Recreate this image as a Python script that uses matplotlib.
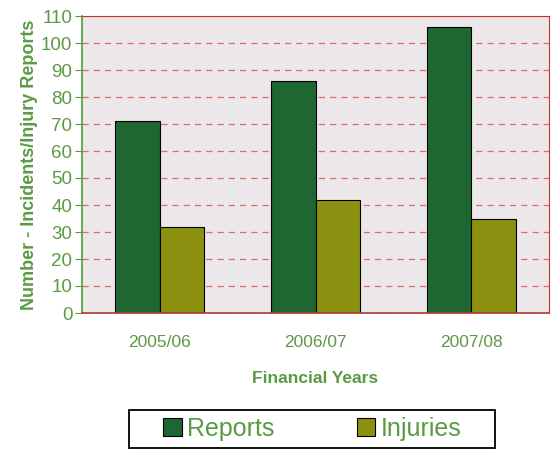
import numpy as np
import matplotlib.pyplot as plt
from matplotlib import font_manager
from matplotlib.patches import Rectangle

years = ['2005/06', '2006/07', '2007/08']
reports = [71, 86, 106]
injuries = [32, 42, 35]

names = {f.name for f in font_manager.fontManager.ttflist}
narrow = 'Liberation Sans Narrow' if 'Liberation Sans Narrow' in names else 'Liberation Sans'

green_txt = '#5b9a45'
fig = plt.figure(figsize=(5.51, 4.5), dpi=100)
ax = fig.add_axes([82 / 551, 1 - 313 / 450, 467 / 551, 297 / 450])
ax.set_facecolor('#ece8e9')

x = np.arange(len(years))
w = 0.285
ax.bar(x - w / 2, reports, w, color='#1e6632', edgecolor='black', linewidth=0.8, label='Reports')
ax.bar(x + w / 2, injuries, w, color='#8c9010', edgecolor='black', linewidth=0.8, label='Injuries')

ax.set_xlim(-0.5, 2.5)
ax.set_ylim(0, 110)
ax.set_yticks(range(0, 111, 10))
ax.set_xticks(x)
ax.set_xticklabels(years)
ax.yaxis.grid(True, color='#e06a6a', linestyle=(0, (5, 4)), linewidth=0.9)
ax.set_axisbelow(True)

for s in ['top', 'right']:
    ax.spines[s].set_color('#c0392b')
ax.spines['bottom'].set_color('#b03a2e')
ax.spines['left'].set_color('#4f9a3a')
ax.spines['bottom'].set_linewidth(1.2)
ax.spines['left'].set_linewidth(1.2)

ax.tick_params(axis='y', colors=green_txt, labelsize=13.5, length=5, pad=2)
ax.tick_params(axis='x', colors=green_txt, labelsize=12.5, length=0, pad=16)
for lbl in ax.get_yticklabels():
    lbl.set_family(narrow)
for lbl in ax.get_xticklabels():
    lbl.set_family('Liberation Sans')

ax.set_xlabel('Financial Years', color=green_txt, fontsize=12.5, fontweight='bold',
              family=narrow, labelpad=15)
ax.set_ylabel('Number - Incidents/Injury Reports', color=green_txt, fontsize=13,
              fontweight='bold', family=narrow, labelpad=2)

leg = ax.legend(loc='center', bbox_to_anchor=(312 / 551, 1 - 429 / 450), bbox_transform=fig.transFigure,
                ncol=2, frameon=False, handlelength=0.75, handleheight=0.75,
                handletextpad=0.2, columnspacing=3.3, borderpad=0.2,
                prop={'family': 'Liberation Sans', 'size': 18})
for t in leg.get_texts():
    t.set_color(green_txt)

fig.patches.append(Rectangle((129 / 551, 1 - 448 / 450), 366 / 551, 38 / 450,
                             transform=fig.transFigure, fill=False, edgecolor='black', linewidth=1.3))

fig.savefig('out.png', dpi=100)
